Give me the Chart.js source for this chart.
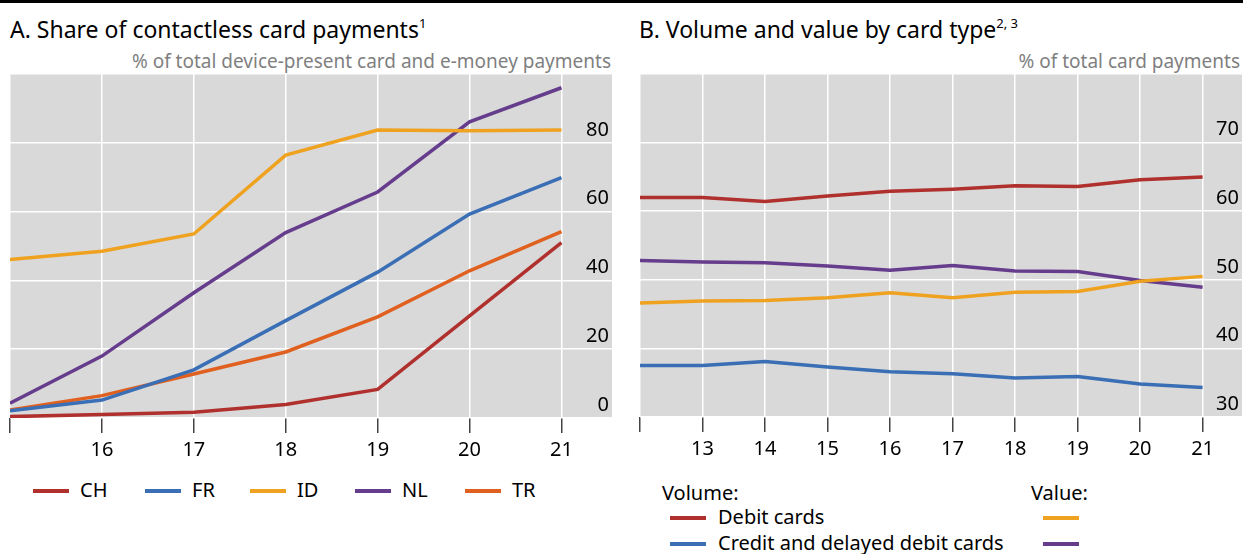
<!DOCTYPE html>
<html>
<head>
<meta charset="utf-8">
<script src="https://cdn.jsdelivr.net/npm/chart.js@4.4.1/dist/chart.umd.min.js"></script>
<style>
  html, body { margin: 0; padding: 0; background: #fff; }
  body { width: 1243px; height: 554px; position: relative; overflow: hidden; font-family: "Noto Sans", "Open Sans", sans-serif; color: #000; }
  .topline { position: absolute; left: 0; top: 0; width: 1243px; height: 3px; background: #000; }
  .title { position: absolute; top: 13px; font-size: 23px; white-space: nowrap; }
  .title sup { font-size: 13px; vertical-align: 0; position: relative; top: -10px; }
  .sub { position: absolute; top: 48px; font-size: 19px; color: #7f7f7f; white-space: nowrap; text-align: right; }
  canvas { position: absolute; top: 0; }
  .lg { position: absolute; font-size: 20px; white-space: nowrap; line-height: 24px; }
  .sw { position: absolute; height: 4px; width: 36px; }
</style>
</head>
<body>
<div class="topline"></div>
<div class="title" style="left:10px;">A. Share of contactless card payments<sup>1</sup></div>
<div class="sub" style="right:632px;">% of total device-present card and e-money payments</div>
<div class="title" style="left:639px;">B. Volume and value by card type<sup>2, 3</sup></div>
<div class="sub" style="right:3px;">% of total card payments</div>

<canvas id="ca" width="620" height="470" style="left:0;width:620px;height:470px;"></canvas>
<canvas id="cb" width="623" height="470" style="left:620px;width:623px;height:470px;"></canvas>

<div id="legA"></div>
<div id="legB"></div>

<script>
// ---------- Data ----------
const yearsA = [15, 16, 17, 18, 19, 20, 21];
const seriesA_CH = [0.4, 1.0, 1.7, 3.9, 8.3, 29.7, 51.0];
const seriesA_FR = [2.1, 5.2, 14.0, 28.3, 42.4, 59.3, 69.9];
const seriesA_ID = [46.1, 48.5, 53.5, 76.4, 83.7, 83.5, 83.7];
const seriesA_NL = [4.3, 18.0, 36.4, 53.9, 65.7, 86.1, 96.0];
const seriesA_TR = [2.3, 6.5, 12.8, 19.2, 29.4, 42.8, 54.2];
const namesA = ["CH", "FR", "ID", "NL", "TR"];
const yTicksA = [0, 20, 40, 60, 80];

const yearsB = [12, 13, 14, 15, 16, 17, 18, 19, 20, 21];
const volDebit  = [62.0, 62.0, 61.4, 62.2, 62.9, 63.2, 63.7, 63.6, 64.6, 65.0];
const volCredit = [37.5, 37.5, 38.1, 37.3, 36.6, 36.3, 35.7, 35.9, 34.8, 34.3];
const valDebit  = [46.6, 46.9, 47.0, 47.4, 48.1, 47.4, 48.2, 48.3, 49.8, 50.5];
const valCredit = [52.8, 52.6, 52.5, 52.0, 51.4, 52.1, 51.3, 51.2, 49.9, 48.9];
const yTicksB = [30, 40, 50, 60, 70];

// ---------- Styles ----------
const C_RED = "#b0302e", C_BLUE = "#3a6eb5", C_YEL = "#efa220", C_PUR = "#663d8c", C_ORG = "#e0601f";
const colorsA = [C_RED, C_BLUE, C_YEL, C_PUR, C_ORG];
const FONT = "'Noto Sans', 'Open Sans', sans-serif";
Chart.defaults.font.family = FONT;
Chart.defaults.color = "#000";

const bgPlugin = {
  id: "bg",
  beforeDraw(chart) {
    const a = chart.chartArea, ctx = chart.ctx;
    ctx.save();
    ctx.fillStyle = "#d9d9d9";
    ctx.fillRect(a.left, a.top, a.right - a.left, a.bottom - a.top);
    ctx.restore();
  }
};

function pts(xs, ys) { return xs.map((x, i) => ({ x: x, y: ys[i] })); }
function ds(label, xs, ys, color) {
  return { label, data: pts(xs, ys), borderColor: color, backgroundColor: color, borderWidth: 3.5,
           pointRadius: 0, tension: 0, fill: false };
}

function makeOpts(xmin, xmax, firstX, ymin, ymax, ystep, yShown, pad, xH) {
  return {
    responsive: false, animation: false, maintainAspectRatio: false,
    layout: { padding: pad },
    plugins: { legend: { display: false }, tooltip: { enabled: false } },
    scales: {
      x: {
        type: "linear", min: xmin, max: xmax,
        border: { display: false },
        grid: { color: "#ffffff", lineWidth: 1.5, tickColor: "#444", tickLength: 15, tickWidth: 1.5 },
        ticks: { stepSize: 1, includeBounds: false, autoSkip: false, maxRotation: 0, padding: 5,
                 font: { size: 20 }, color: "#000",
                 callback: v => (v === firstX ? "" : String(v)) },
        afterFit: s => { s.height = xH; }
      },
      y: {
        type: "linear", position: "right", min: ymin, max: ymax,
        border: { display: false },
        grid: { color: "#ffffff", lineWidth: 1.5, drawTicks: false },
        ticks: { stepSize: ystep, mirror: true, padding: -3, labelOffset: -13,
                 font: { size: 20 }, color: "#000",
                 callback: v => (yShown.includes(v) ? String(v) : "") },
        afterFit: s => { s.width = 0; }
      }
    }
  };
}

const seriesA = [seriesA_CH, seriesA_FR, seriesA_ID, seriesA_NL, seriesA_TR];
new Chart(document.getElementById("ca"), {
  type: "line",
  data: { datasets: namesA.map((n, i) => ds(n, yearsA, seriesA[i], colorsA[i])) },
  options: makeOpts(15, 21.55, 15, 0, 100, 20, yTicksA, { left: 10, top: 74, right: 8, bottom: 0 }, 52),
  plugins: [bgPlugin]
});

new Chart(document.getElementById("cb"), {
  type: "line",
  data: { datasets: [
    ds("Volume: Debit cards", yearsB, volDebit, C_RED),
    ds("Volume: Credit and delayed debit cards", yearsB, volCredit, C_BLUE),
    ds("Value: Debit cards", yearsB, valDebit, C_YEL),
    ds("Value: Credit and delayed debit cards", yearsB, valCredit, C_PUR)
  ] },
  options: makeOpts(12, 21.63, 12, 30, 80, 10, yTicksB, { left: 20, top: 74, right: 1, bottom: 0 }, 53),
  plugins: [bgPlugin]
});

// ---------- Legends (HTML) ----------
function sw(x, y, color) { return `<div class="sw" style="left:${x}px;top:${y - 2}px;background:${color}"></div>`; }
function tx(x, y, t) { return `<div class="lg" style="left:${x}px;top:${y - 13}px">${t}</div>`; }
const legAX = [33, 145, 250, 355, 465];
let hA = "";
namesA.forEach((n, i) => { hA += sw(legAX[i], 491, colorsA[i]) + tx(legAX[i] + 47, 491, n); });
document.getElementById("legA").innerHTML = hA;

let hB = "";
hB += tx(662, 494, "Volume:") + tx(1031, 494, "Value:");
hB += sw(670, 518, C_RED) + tx(718, 518, "Debit cards") + sw(1043, 518, C_YEL);
hB += sw(670, 544, C_BLUE) + tx(718, 544, "Credit and delayed debit cards") + sw(1043, 544, C_PUR);
document.getElementById("legB").innerHTML = hB;
</script>
</body>
</html>
